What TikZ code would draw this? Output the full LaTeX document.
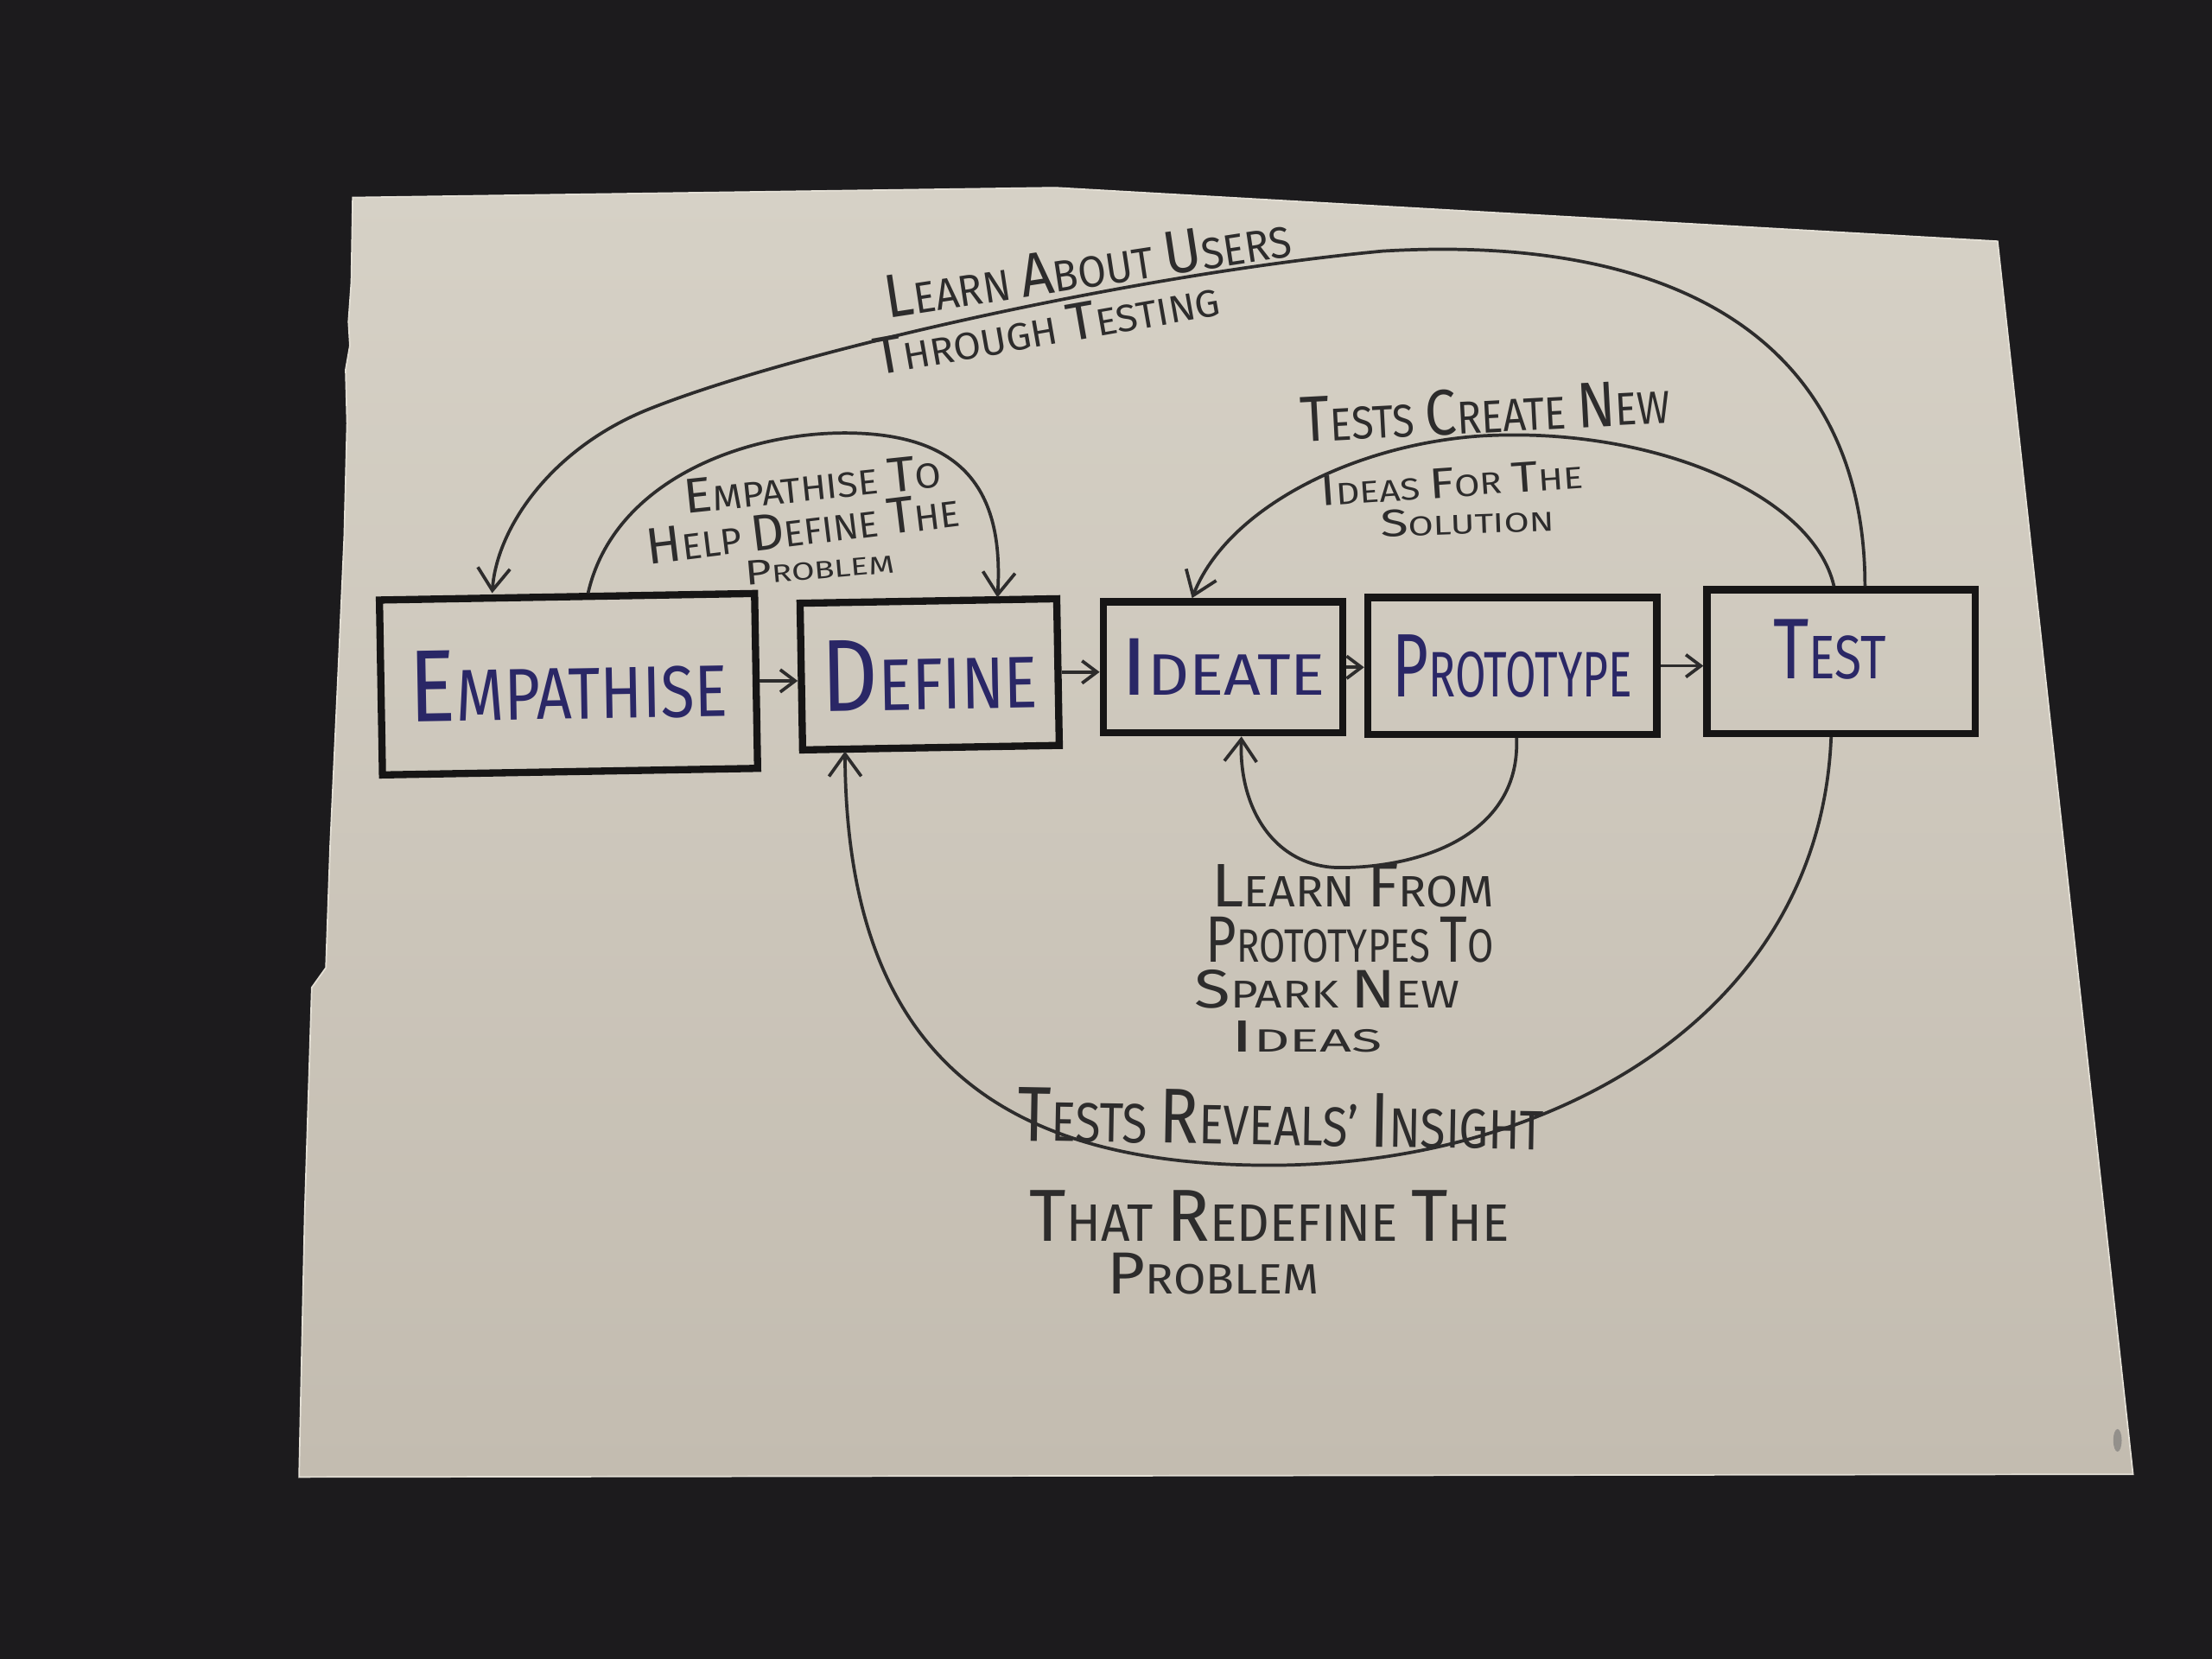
\documentclass[tikz,border=0pt]{standalone}
\usepackage{fontspec}
\setmainfont{Fira Sans}
\usepackage{graphicx}
\usetikzlibrary{arrows.meta,calc}
\newlength\upx
\setlength\upx{0.02cm}
\newcommand\fitt[3]{\resizebox{#1\upx}{#2\upx}{#3}}
\newcommand\K[1]{{\fontsize{14}{14}\selectfont #1}}
\definecolor{bgdark}{HTML}{1C1B1D}
\definecolor{paperA}{HTML}{D6D1C6}
\definecolor{paperB}{HTML}{C3BCB0}
\definecolor{paperEdge}{HTML}{E4E0D6}
\definecolor{ink}{HTML}{2D2C2C}
\definecolor{marker}{HTML}{2A2766}
\definecolor{boxline}{HTML}{161515}
\begin{document}
\begin{tikzpicture}[x=0.02cm,y=-0.02cm,
  stagebox/.style={draw=boxline, line width=2.9pt, inner sep=0pt, text=marker},
  lbl/.style={inner sep=0pt, text=ink},
  conn/.style={draw=ink, line width=1.3pt, -{Straight Barb[length=9pt,width=13pt]}},
  flow/.style={draw=ink, line width=1.3pt, -{Straight Barb[length=6pt,width=9pt]}}
]
% background and bounding box
\fill[bgdark] (0,0) rectangle (1568,1176);
\useasboundingbox (0,0) rectangle (1568,1176);

% paper sheet
\shadedraw[top color=paperA, bottom color=paperB, draw=paperEdge, line width=0.6pt]
  (250,140) -- (748,133) -- (1416,171) -- (1512,1045) -- (212,1047)
  -- (216,860) -- (221,700) -- (231,686) -- (234,600) -- (240,470)
  -- (244,380) -- (246,300) -- (245,262) -- (248,245) -- (247,228)
  -- (249,200) -- cycle;
\fill[black!55, opacity=0.6] (1501,1021) ellipse [x radius=3, y radius=8];

% stages
\node[stagebox, minimum width=5.32cm, minimum height=2.48cm, rotate=1] (emp) at (403,485)
  {\fitt{225}{50}{\K{E}MPATHISE}};
\node[stagebox, minimum width=3.64cm, minimum height=2.08cm, rotate=1] (def) at (659,478)
  {\fitt{153}{50}{\K{D}EFINE}};
\node[stagebox, minimum width=3.4cm, minimum height=1.86cm] (ide) at (867,473)
  {\fitt{145}{40}{\K{I}DEATE}};
\node[stagebox, minimum width=4.1cm, minimum height=1.94cm] (pro) at (1072,472)
  {\fitt{170}{44}{\K{P}ROTOTYPE}};
\node[stagebox, minimum width=3.8cm, minimum height=2.04cm] (tst) at (1305,469)
  {\raisebox{18\upx}{\fitt{80}{42}{\K{T}EST}}\hspace*{16\upx}};

% straight flow arrows
\draw[flow] (emp.east) -- (emp.east -| def.west);
\draw[flow] (def.east) -- (def.east -| ide.west);
\draw[flow] (ide.east) -- (ide.east -| pro.west);
\draw[flow] (pro.east) -- (pro.east -| tst.west);

% feedback arcs
\draw[conn] ([xshift=0.34cm]tst.north) .. controls (1322,250) and (1200,165) .. (980,178)
  .. controls (800,195) and (560,250) .. (460,290)
  .. controls (390,318) and (352,375) .. ([xshift=-1.06cm]emp.north);
\draw[conn] ([xshift=0.3cm]emp.north) .. controls (435,340) and (530,305) .. (605,307)
  .. controls (680,309) and (712,345) .. ([xshift=0.98cm]def.north);
\draw[conn] ([xshift=-0.1cm]tst.north) .. controls (1285,350) and (1170,302) .. (1050,309)
  .. controls (960,315) and (870,360) .. ([xshift=-0.44cm]ide.north);
\draw[conn] ([xshift=0.06cm]pro.south) .. controls (1078,590) and (1010,615) .. (950,615)
  .. controls (905,615) and (878,575) .. ([xshift=0.26cm]ide.south);
\draw[conn] ([xshift=-0.14cm]tst.south) .. controls (1290,720) and (1100,826) .. (900,826)
  .. controls (700,826) and (600,740) .. ([xshift=-1.22cm]def.south);

% labels
\node[lbl, rotate=8.7] (la1) at (771,189) {\fitt{291}{30}{\K{L}EARN \K{A}BOUT \K{U}SERS}};
\node[lbl, rotate=10] (la2) at (742,232) {\fitt{248}{26}{\K{T}HROUGH \K{T}ESTING}};

\node[lbl, rotate=6] (lb1) at (576,343) {\fitt{183}{24}{\K{E}MPATHISE \K{T}O}};
\node[lbl, rotate=7] (lb2) at (569,374) {\fitt{223}{25}{\K{H}ELP \K{D}EFINE \K{T}HE}};
\node[lbl, rotate=5] (lb3) at (581,402) {\fitt{106}{17}{\K{P}ROBLEM}};

\node[lbl, rotate=3] (lc1) at (1053,291) {\fitt{262}{32}{\K{T}ESTS \K{C}REATE \K{N}EW}};
\node[lbl, rotate=4] (lc2) at (1029,342) {\fitt{186}{21}{\K{I}DEAS \K{F}OR \K{T}HE}};
\node[lbl, rotate=2] (lc3) at (1040,369) {\fitt{123}{19}{\K{S}OLUTION}};

\node[lbl] (ld1) at (959,628) {\fitt{200}{30}{\K{L}EARN \K{F}ROM}};
\node[lbl] (ld2) at (957,666) {\fitt{204}{32}{\K{P}ROTOTYPES \K{T}O}};
\node[lbl] (ld3) at (941,701) {\fitt{188}{27}{\K{S}PARK \K{N}EW}};
\node[lbl] (ld4) at (926,735) {\fitt{107}{22}{\K{I}DEAS}};

\node[lbl, rotate=-1] (le1) at (908,793) {\fitt{373}{38}{\K{T}ESTS \K{R}EVEALS' \K{I}NSIGHT}};
\node[lbl] (le2) at (900,862) {\fitt{340}{36}{\K{T}HAT \K{R}EDEFINE \K{T}HE}};
\node[lbl] (le3) at (860,903) {\fitt{150}{29}{\K{P}ROBLEM}};
\end{tikzpicture}
\end{document}
